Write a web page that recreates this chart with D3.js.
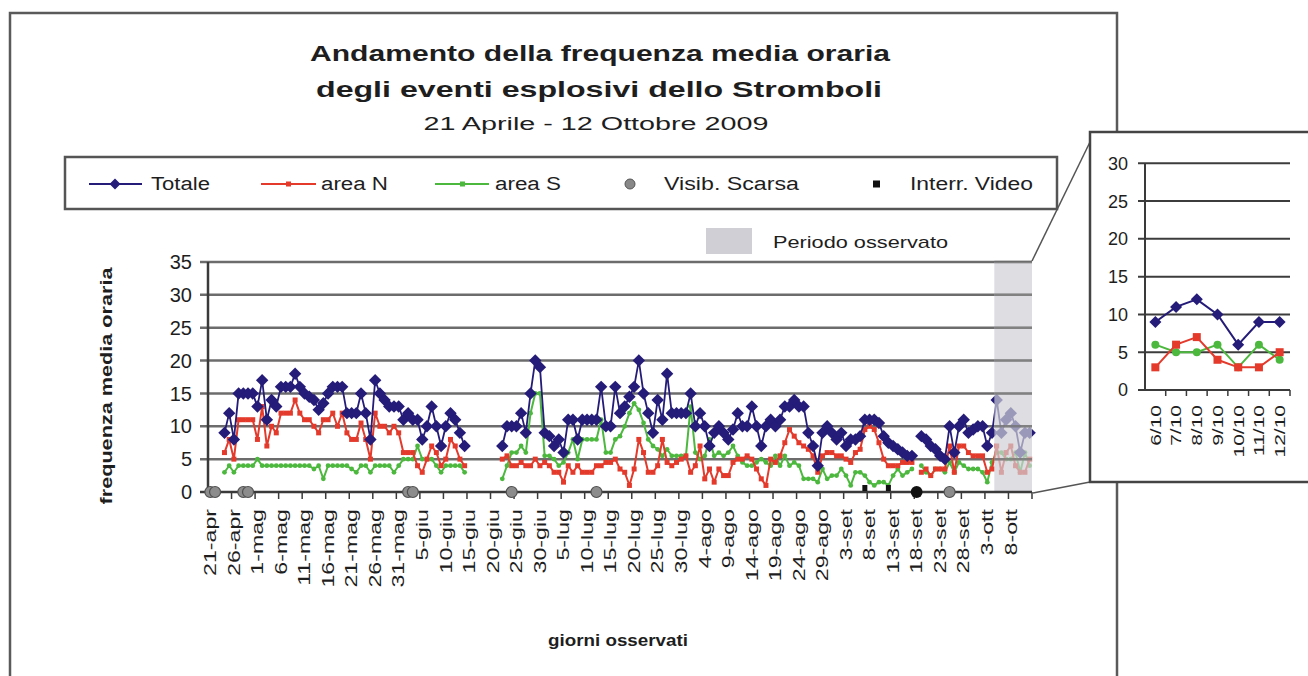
<!DOCTYPE html>
<html><head><meta charset="utf-8">
<script src="https://cdn.jsdelivr.net/npm/d3@7"></script>
<style>
body{margin:0;background:#fff}
svg{display:block}
text{font-family:"Liberation Sans",Arial,sans-serif;fill:#1e1e1e}
</style>
</head><body>
<svg id="c" width="1308" height="676"></svg>
<script>
// ---------- DATA ----------
const categories = d3.timeDay.range(new Date(2009,3,21), new Date(2009,9,13)); // 21 apr .. 12 ott (175 giorni)
const tickLabels = ["21-apr","26-apr","1-mag","6-mag","11-mag","16-mag","21-mag","26-mag","31-mag","5-giu","10-giu","15-giu","20-giu","25-giu","30-giu","5-lug","10-lug","15-lug","20-lug","25-lug","30-lug","4-ago","9-ago","14-ago","19-ago","24-ago","29-ago","3-set","8-set","13-set","18-set","23-set","28-set","3-ott","8-ott"];
const yTicks = [0,5,10,15,20,25,30,35];

const totale = [
null,null,null,9,12,8,15,15,15,15,
13,17,11,14,13,16,16,16,18,16,
15,14.5,14,12.5,13.5,15,16,16,16,12,
12,12,15,12,8,17,15,14,13,13,
13,11,12,11,11,8,10,13,10,7,
10,12,11,9,7,null,null,null,null,null,
null,null,7,10,10,10,12,9,15,20,
19,9,8.5,7,8,6,11,11,8,11,
11,11,11,16,10,10,16,12,13,14.5,
16,20,15,12,9,14,11,18,12,12,
12,12,15,10,12,10,7,9,10,9,
8,9.5,12,10,10,13,10,7,10,11,
10,11,13,13,14,13,13,9,7,4,
9,10,9,8,9,7,8,8,8.5,11,
11,11,10.5,8.5,7.5,7,6.5,6,5.5,5.5,
null,8.5,8,7,6.5,5.5,5,10,6,10,
11,9,9.5,10,10,7,9,14,9,11,
12,10,6,9,9];

const areaN = [
null,null,null,6,8,5,11,11,11,11,
8,13,7,10,9,12,12,12,14,12,
11,11,10,9,11,11,12,10,12,9,
8,8,10.5,8,5,12,10,10,9,10,
9,6,6,6,4,3,5,7,6,4,
5,8,7,5,4,null,null,null,null,null,
null,null,5,5.5,4,4,4.5,4,4,5,
4,4.5,4,3,3,1.5,4,3,4,3,
3,3,4,4,4.5,4.5,5,3.5,3,1,
3.5,8,6,3,3,4,8,4.5,4,4.5,
5,5.5,3,4,7,2,3.5,1.5,3.5,2.5,
2.5,4.5,5,5,5.5,5,3.5,2,1,5,
4.5,5.5,7.5,9.5,8.5,7.5,7,6.5,5.5,3,
5.5,6,6,5.5,5.5,5,4.5,6,6.5,9.5,
10,9.5,7.5,5,4,4,4,4.5,4.5,4.5,
null,3,3.5,2.5,3.5,3.5,3.5,7,3,7,
7,6,5.5,5.5,5.5,3,3.5,7,3,6,
7,4,3,3,5];

const areaS = [
null,null,null,3,4,3,4,4,4,4,
5,4,4,4,4,4,4,4,4,4,
4,4,3.5,4,2,4,4,4,4,4,
3.5,3,4,4,3,4,4,4,4,3,
4,5,5,5,7,5,5,5,4,3,
4,4,4,4,3,null,null,null,null,null,
null,null,2,4,6,6,7,6,12,15,
15,5.5,5.5,5,4,4.5,6,8,5,8,
8,8,8,11,6,6,8,8.5,10,12,
13.5,12.5,10.5,8,7,6.5,5.5,6.5,5.5,5.5,
5.5,5.5,13,6,5,5.5,8,5.5,6,5.5,
6,7,5.5,4.5,4,4,4.5,5,4.5,4,
5.5,4,5.5,4,4.5,4,2,2,2,1.5,
3.5,2,2.5,2.5,3.5,2.5,1,3,3,2.5,
1.5,1,1.5,1.5,1,2.5,3.5,2.5,3,3.5,
null,4,3,2.5,3.5,3.5,3,4.5,3,4.5,
4,3.5,3.5,3.5,3,1.5,4.5,6,6,5,
5,6,3,6,4];

const visibScarsa = [0,1,7,8,42,43,64,82,157];   // indici dei giorni
const interrVideo = [139,144,150];
const periodoStart = 167;

const insetCategories = ["6/10","7/10","8/10","9/10","10/10","11/10","12/10"];
const insetTotale = [9,11,12,10,6,9,9];
const insetN = [3,6,7,4,3,3,5];
const insetS = [6,5,5,6,3,6,4];
const insetYTicks = [0,5,10,15,20,25,30];

// ---------- STYLE ----------
const C_TOT = "#241c78", C_N = "#e33a2c", C_S = "#4cb83e", GRID = "#6c6c6c", AX = "#3a3a3a";
const SHADE = "#cfcfd5";
const svg = d3.select("#c");
const diamond = r => `M0,${-r}L${r},0L0,${r}L${-r},0Z`;

// outer frame
svg.append("rect").attr("x",10).attr("y",13).attr("width",1107).attr("height",700)
  .attr("fill","none").attr("stroke","#5a5a5a").attr("stroke-width",2.5);

// titles
svg.append("text").attr("x",600).attr("y",61).attr("text-anchor","middle")
  .attr("textLength",580).attr("lengthAdjust","spacingAndGlyphs")
  .style("font-size","22px").style("font-weight","bold").text("Andamento della frequenza media oraria");
svg.append("text").attr("x",599).attr("y",97).attr("text-anchor","middle")
  .attr("textLength",566).attr("lengthAdjust","spacingAndGlyphs")
  .style("font-size","22px").style("font-weight","bold").text("degli eventi esplosivi dello Stromboli");
svg.append("text").attr("x",596).attr("y",130).attr("text-anchor","middle")
  .attr("textLength",345).attr("lengthAdjust","spacingAndGlyphs")
  .style("font-size","18px").text("21 Aprile - 12 Ottobre 2009");

// legend
const lg = svg.append("g");
lg.append("rect").attr("x",65).attr("y",157).attr("width",992).attr("height",52)
  .attr("fill","none").attr("stroke","#555").attr("stroke-width",2.5);
const ly = 184;
lg.append("line").attr("x1",89).attr("x2",142).attr("y1",ly).attr("y2",ly).attr("stroke",C_TOT).attr("stroke-width",2);
lg.append("path").attr("d",diamond(5.5)).attr("transform",`translate(115,${ly})`).attr("fill",C_TOT);
lg.append("line").attr("x1",261).attr("x2",316).attr("y1",ly).attr("y2",ly).attr("stroke",C_N).attr("stroke-width",2);
lg.append("rect").attr("x",286).attr("y",ly-2.5).attr("width",5).attr("height",5).attr("fill",C_N);
lg.append("line").attr("x1",435).attr("x2",489).attr("y1",ly).attr("y2",ly).attr("stroke",C_S).attr("stroke-width",2);
lg.append("rect").attr("x",460).attr("y",ly-2.5).attr("width",5).attr("height",5).attr("fill",C_S);
lg.append("circle").attr("cx",630).attr("cy",ly).attr("r",5).attr("fill","#888").attr("stroke","#555");
lg.append("rect").attr("x",873).attr("y",ly-3.5).attr("width",7).attr("height",7).attr("fill","#111");
[["Totale",151,59],["area N",321,67],["area S",495,66],["Visib. Scarsa",664,135],["Interr. Video",910,123]].forEach(([t,xx,w])=>{
  lg.append("text").attr("x",xx).attr("y",ly+6).attr("textLength",w).attr("lengthAdjust","spacingAndGlyphs")
    .style("font-size","18px").text(t);
});

// periodo osservato legend
svg.append("rect").attr("x",706).attr("y",228).attr("width",46).attr("height",26).attr("fill",SHADE);
svg.append("text").attr("x",773).attr("y",248).attr("textLength",175).attr("lengthAdjust","spacingAndGlyphs")
  .style("font-size","17px").text("Periodo osservato");

// ---------- MAIN CHART ----------
const idx = d3.range(categories.length);
const x = d3.scaleBand().domain(idx).range([208,1032]).padding(0);
const bw = x.bandwidth();
const cx = i => x(i) + bw/2;
const y = d3.scaleLinear().domain([0,35]).range([492,262]);

// gridlines
svg.append("g").selectAll("line").data(yTicks.filter(v=>v>0)).join("line")
  .attr("x1",200).attr("x2",1032).attr("y1",d=>y(d)).attr("y2",d=>y(d))
  .attr("stroke",GRID).attr("stroke-width",2.5);

// y axis labels
svg.append("g").selectAll("text").data(yTicks).join("text")
  .attr("x",192).attr("y",d=>y(d)).attr("dy","0.36em").attr("text-anchor","end")
  .style("font-size","20px").text(d=>d);
svg.append("line").attr("x1",200).attr("x2",208).attr("y1",y(0)).attr("y2",y(0)).attr("stroke",AX).attr("stroke-width",2.5);

// y axis title
svg.append("text").attr("transform",`translate(112,386) rotate(-90)`).attr("text-anchor","middle")
  .attr("textLength",237).attr("lengthAdjust","spacingAndGlyphs")
  .style("font-size","16px").style("font-weight","bold").text("frequenza media oraria");

// series
function drawSeries(vals, color, width, marker){
  const pts = vals.map((v,i)=>({i,v}));
  svg.append("path").datum(pts)
    .attr("d", d3.line().defined(d=>d.v!=null).x(d=>cx(d.i)).y(d=>y(d.v)))
    .attr("fill","none").attr("stroke",color).attr("stroke-width",width).attr("stroke-linejoin","round");
  const g = svg.append("g");
  const def = pts.filter(d=>d.v!=null);
  if(marker==="diamond"){
    g.selectAll("path").data(def).join("path").attr("d",diamond(6.2))
      .attr("transform",d=>`translate(${cx(d.i)},${y(d.v)})`).attr("fill",color);
  } else if(marker==="square"){
    g.selectAll("rect").data(def).join("rect").attr("x",d=>cx(d.i)-2.5).attr("y",d=>y(d.v)-2.5)
      .attr("width",5).attr("height",5).attr("fill",color);
  } else {
    g.selectAll("circle").data(def).join("circle").attr("cx",d=>cx(d.i)).attr("cy",d=>y(d.v))
      .attr("r",2.4).attr("fill",color);
  }
}
drawSeries(areaS, C_S, 2, "circle");
drawSeries(areaN, C_N, 2, "square");
drawSeries(totale, C_TOT, 1.8, "diamond");

// shaded observed period (over data)
const shX = x(periodoStart);
svg.append("rect").attr("x",shX).attr("y",262).attr("width",1032-shX).attr("height",230)
  .attr("fill",SHADE).attr("opacity",0.7);
svg.append("g").selectAll("line").data(yTicks.filter(v=>v>0)).join("line")
  .attr("x1",shX).attr("x2",1032).attr("y1",d=>y(d)).attr("y2",d=>y(d))
  .attr("stroke",GRID).attr("stroke-opacity",0.7).attr("stroke-width",2.5);

// axes lines
svg.append("line").attr("x1",208).attr("x2",208).attr("y1",262).attr("y2",492).attr("stroke",AX).attr("stroke-width",2.5);
svg.append("line").attr("x1",208).attr("x2",1032).attr("y1",492).attr("y2",492).attr("stroke",AX).attr("stroke-width",2.5);
// x ticks every 5 days
svg.append("g").selectAll("line").data(d3.range(5,176,5)).join("line")
  .attr("x1",k=>x(0)+k*bw).attr("x2",k=>x(0)+k*bw).attr("y1",492).attr("y2",499)
  .attr("stroke",AX).attr("stroke-width",1.5);

// x labels
svg.append("g").selectAll("text").data(tickLabels).join("text")
  .attr("transform",(d,k)=>`translate(${cx(k*5)},509) rotate(-90) scale(1.45,1)`)
  .attr("text-anchor","end").attr("dy","0.36em").style("font-size","16px").text(d=>d);

// x axis title
svg.append("text").attr("x",618).attr("y",646).attr("text-anchor","middle")
  .attr("textLength",140).attr("lengthAdjust","spacingAndGlyphs")
  .style("font-size","17px").style("font-weight","bold").text("giorni osservati");

// special markers
svg.append("g").selectAll("circle").data(visibScarsa).join("circle")
  .attr("cx",i=>cx(i)).attr("cy",y(0)).attr("r",5.5).attr("fill","#8c8c8c").attr("stroke","#505050").attr("stroke-width",1.2);
svg.append("g").selectAll("path").data(interrVideo).join("path")
  .attr("d",(i,k)=> k===interrVideo.length-1 ? d3.symbol(d3.symbolCircle,110)() : "M-2.5,-3L2.5,-3L2.5,3L-2.5,3Z")
  .attr("transform",(i,k)=>`translate(${cx(i)},${k===interrVideo.length-1?y(0):y(0)-4})`)
  .attr("fill","#111");

// connectors
svg.append("line").attr("x1",1032).attr("y1",261).attr("x2",1090).attr("y2",142).attr("stroke","#555").attr("stroke-width",1.5);
svg.append("line").attr("x1",1033).attr("y1",493).attr("x2",1090).attr("y2",482).attr("stroke","#555").attr("stroke-width",1.5);

// ---------- INSET ----------
svg.append("rect").attr("x",1090).attr("y",132).attr("width",240).attr("height",350)
  .attr("fill","#fff").attr("stroke","#444").attr("stroke-width",2.5);
const xi = d3.scaleBand().domain(insetCategories).range([1145,1290]);
const ibw = xi.bandwidth();
const icx = c => xi(c) + ibw/2;
const yi = d3.scaleLinear().domain([0,30]).range([390,163.3]);
svg.append("g").selectAll("line").data(insetYTicks).join("line")
  .attr("x1",1138).attr("x2",1290).attr("y1",d=>yi(d)).attr("y2",d=>yi(d))
  .attr("stroke",d=>d===0?AX:"#3c3c3c").attr("stroke-width",2);
svg.append("line").attr("x1",1145).attr("x2",1145).attr("y1",163).attr("y2",390).attr("stroke",AX).attr("stroke-width",2);
svg.append("g").selectAll("line").data(d3.range(1,8)).join("line")
  .attr("x1",k=>1145+k*ibw).attr("x2",k=>1145+k*ibw).attr("y1",390).attr("y2",396)
  .attr("stroke",AX).attr("stroke-width",1.5);
svg.append("g").selectAll("text").data(insetYTicks).join("text")
  .attr("x",1128).attr("y",d=>yi(d)).attr("dy","0.36em").attr("text-anchor","end")
  .style("font-size","18px").text(d=>d);
svg.append("g").selectAll("text").data(insetCategories).join("text")
  .attr("transform",d=>`translate(${icx(d)},405) rotate(-90) scale(1.4,1)`)
  .attr("text-anchor","end").attr("dy","0.36em").style("font-size","15px").text(d=>d);

function insetSeries(vals,color,marker){
  const pts = vals.map((v,k)=>({c:insetCategories[k],v}));
  svg.append("path").datum(pts).attr("d",d3.line().x(d=>icx(d.c)).y(d=>yi(d.v)))
    .attr("fill","none").attr("stroke",color).attr("stroke-width",2);
  const g = svg.append("g");
  if(marker==="diamond"){
    g.selectAll("path").data(pts).join("path").attr("d",diamond(6))
      .attr("transform",d=>`translate(${icx(d.c)},${yi(d.v)})`).attr("fill",color);
  } else if(marker==="square"){
    g.selectAll("rect").data(pts).join("rect").attr("x",d=>icx(d.c)-4).attr("y",d=>yi(d.v)-4)
      .attr("width",8).attr("height",8).attr("fill",color);
  } else {
    g.selectAll("circle").data(pts).join("circle").attr("cx",d=>icx(d.c)).attr("cy",d=>yi(d.v))
      .attr("r",4).attr("fill",color);
  }
}
insetSeries(insetS, C_S, "circle");
insetSeries(insetN, C_N, "square");
insetSeries(insetTotale, C_TOT, "diamond");
</script>
</body></html>
